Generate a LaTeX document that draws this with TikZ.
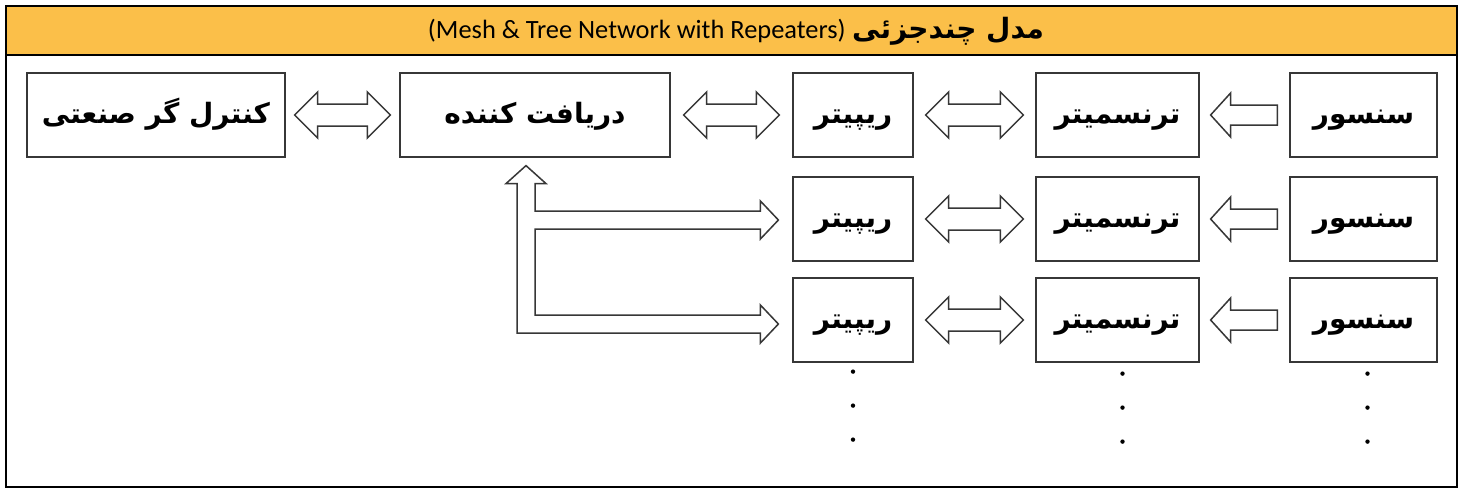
\documentclass[tikz,border=0pt]{standalone}
\usepackage{fontspec}
\usetikzlibrary{calc}
\TeXXeTstate=1
\newfontfamily\fafont[Script=Arabic]{DejaVu Sans}
\newfontfamily\enfont{Carlito}
\newcommand\fa[1]{{\fafont\bfseries\beginR #1\endR}}
\definecolor{titlebg}{RGB}{251,191,73}
\definecolor{linegray}{RGB}{55,55,55}

\newcommand\dblarrow[3][12]{%
  \coordinate (da) at ($(#2.east)+(#1,0)$);
  \coordinate (db) at ($(#3.west)+(-#1,0)$);
  \draw[blockarrow] (da) -- ++(23,-23) -- ++(0,12) -- ($(db)+(-23,-11)$) -- ++(0,-12) -- (db)
    -- ++(-23,23) -- ++(0,-12) -- ($(da)+(23,11)$) -- ++(0,12) -- cycle;}
\newcommand\onearrow[2]{%
  \coordinate (sa) at ($(#2.east)+(11,0)$);
  \coordinate (sb) at ($(#1.west)+(-12,0)$);
  \draw[blockarrow] (sa) -- ++(20,-22) -- ++(0,12) -- ($(sb)+(0,-10)$) -- ($(sb)+(0,10)$)
    -- ($(sa)+(20,10)$) -- ++(0,12) -- cycle;}

\begin{document}
\begin{tikzpicture}[x=0.5pt,y=-0.5pt,
  box/.style={draw=linegray,line width=0.6pt,inner sep=0pt,minimum height=42pt,
    text height=11pt,text depth=3pt,font=\fontsize{14}{16}\selectfont},
  blockarrow/.style={draw=linegray,line width=0.75pt,line join=miter,fill=white}]
\useasboundingbox (0,0) rectangle (1468,494);
\draw[line width=0.8pt,fill=white] (6,6) rectangle (1457,487);
\draw[line width=0.8pt,fill=titlebg] (6,6) rectangle (1457,55);
\node (title) at (736,31) {{\enfont\fontsize{13.2}{15}\selectfont (Mesh \& Tree Network with Repeaters)}
  {\fontsize{14}{16}\selectfont\fa{مدل چندجزئی}}};

\node[box,minimum width=129pt] (ctrl) at (156,115) {\fa{کنترل گر صنعتی}};
\node[box,minimum width=135pt] (recv) at (535,115) {\fa{دریافت کننده}};
\foreach \i/\y in {1/115,2/219,3/320}{
  \node[box,minimum width=60pt] (rep\i) at (853,\y) {\fa{ریپیتر}};
  \node[box,minimum width=81.5pt] (trans\i) at (1117.5,\y) {\fa{ترنسمیتر}};
  \node[box,minimum width=73.5pt] (sens\i) at (1363.5,\y) {\fa{سنسور}};
}

\dblarrow[9]{ctrl}{recv}
\dblarrow[13]{recv}{rep1}
\foreach \i in {1,2,3}{
  \dblarrow{rep\i}{trans\i}
  \onearrow{sens\i}{trans\i}
}

\coordinate (up) at ($(recv.south)+(-9,8)$);
\coordinate (br2) at ($(rep2.west)+(-14,1)$);
\coordinate (br3) at ($(rep3.west)+(-14,4)$);
\draw[blockarrow] (up) -- ++(20,18) -- ++(-11,0) -- ($(up |- br2)+(9,-9)$) -- ($(br2)+(-18,-9)$)
  -- ++(0,-10) -- (br2) -- ++(-18,19) -- ++(0,-10) -- ($(up |- br2)+(9,9)$)
  -- ($(up |- br3)+(9,-9)$) -- ($(br3)+(-18,-9)$) -- ++(0,-10) -- (br3) -- ++(-18,19)
  -- ++(0,-10) -- ($(up |- br3)+(-9,9)$) -- ($(up)+(-9,18)$) -- ++(-11,0) -- cycle;

\foreach \k in {0,1,2}{
  \fill ($(rep3.south)+(0,9+34*\k)$) circle (2.2);
  \fill ($(trans3.south)+(5,11+34*\k)$) circle (2.2);
  \fill ($(sens3.south)+(4,11+34*\k)$) circle (2.2);
}
\end{tikzpicture}
\end{document}
